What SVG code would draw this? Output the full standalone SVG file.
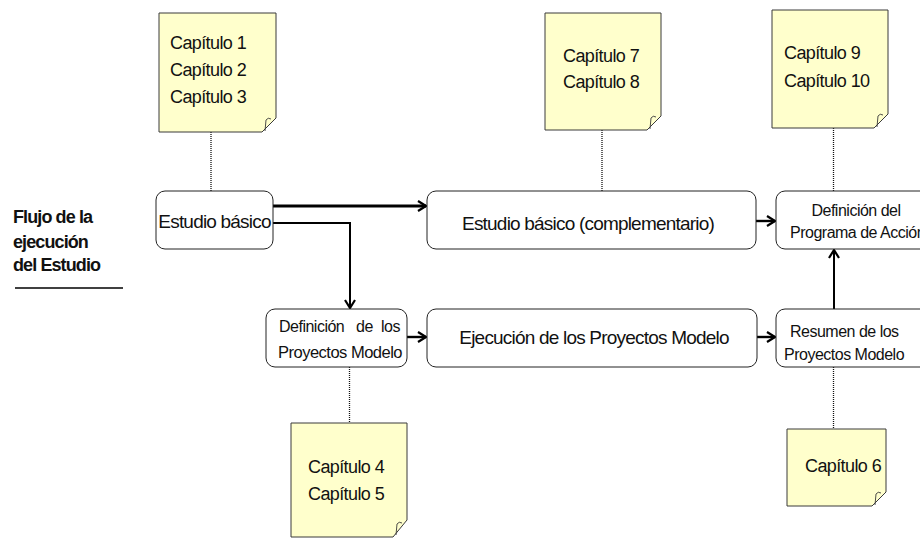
<svg xmlns="http://www.w3.org/2000/svg" width="920" height="538" viewBox="0 0 920 538">
  <style>
    .note { fill: #FFFFCC; stroke: #3a3a3a; stroke-width: 1; }
    .curl { fill: none; stroke: #3a3a3a; stroke-width: 0.9; }
    .box { fill: #FFFFFF; stroke: #222; stroke-width: 1; }
    .t { font-family: "Liberation Sans", Arial, sans-serif; fill: #111; }
    .nt { font-size: 18px; letter-spacing: -0.6px; }
    .bt { font-size: 19px; letter-spacing: -0.8px; }
    .st { font-size: 16px; letter-spacing: -0.5px; }
    .lbl { font-size: 18px; font-weight: bold; letter-spacing: -0.9px; }
    .dot { stroke: #111; stroke-width: 1.3; stroke-dasharray: 1 1; fill: none; }
    .flow { stroke: #000; fill: none; }
  </style>
  <defs>
    <marker id="head" viewBox="0 0 10 12" refX="9" refY="6" markerWidth="10" markerHeight="12" markerUnits="userSpaceOnUse" orient="auto">
      <path d="M1,1 L9,6 L1,11" fill="none" stroke="#000" stroke-width="2.2"/>
    </marker>
  </defs>

  <!-- side label -->
  <g id="label">
    <text class="t lbl" x="13" y="223">Flujo de la</text>
    <text class="t lbl" x="13" y="248">ejecución</text>
    <text class="t lbl" x="13" y="271">del Estudio</text>
    <line x1="15" y1="288" x2="123" y2="288" stroke="#000" stroke-width="1.6"/>
  </g>

  <!-- connectors -->
  <g id="connectors">
    <line class="dot" x1="211" y1="132" x2="211" y2="191"/>
    <line class="dot" x1="602" y1="130" x2="602" y2="191"/>
    <line class="dot" x1="833.5" y1="128" x2="833.5" y2="191"/>
    <line class="dot" x1="349.5" y1="367" x2="349.5" y2="423"/>
    <line class="dot" x1="833.5" y1="367" x2="833.5" y2="429"/>

    <line class="flow" x1="273" y1="206" x2="426" y2="206" stroke-width="2.8" marker-end="url(#head)"/>
    <polyline class="flow" points="273,223 350,223 350,308" stroke-width="2" marker-end="url(#head)"/>
    <line class="flow" x1="756" y1="221" x2="775" y2="221" stroke-width="2.4" marker-end="url(#head)"/>
    <line class="flow" x1="407" y1="337" x2="426" y2="337" stroke-width="2.4" marker-end="url(#head)"/>
    <line class="flow" x1="757" y1="337" x2="775" y2="337" stroke-width="2.4" marker-end="url(#head)"/>
    <line class="flow" x1="834" y1="309" x2="834" y2="250" stroke-width="2" marker-end="url(#head)"/>
  </g>

  <!-- chapter notes -->
  <g id="note-1-3">
    <path class="note" d="M159,13 H276 V118 L262,132 H159 Z"/>
    <path class="curl" d="M265,131 L266,120 Q268,117 271,119"/>
    <text class="t nt" x="170" y="49">Capítulo 1</text>
    <text class="t nt" x="170" y="76">Capítulo 2</text>
    <text class="t nt" x="170" y="103">Capítulo 3</text>
  </g>
  <g id="note-7-8">
    <path class="note" d="M545,13 H661 V116 L647,130 H545 Z"/>
    <path class="curl" d="M650,129 L651,118 Q653,115 656,117"/>
    <text class="t nt" x="563" y="62">Capítulo 7</text>
    <text class="t nt" x="563" y="88">Capítulo 8</text>
  </g>
  <g id="note-9-10">
    <path class="note" d="M772,10 H888 V114 L874,128 H772 Z"/>
    <path class="curl" d="M877,127 L878,116 Q880,113 883,115"/>
    <text class="t nt" x="784" y="59">Capítulo 9</text>
    <text class="t nt" x="784" y="87">Capítulo 10</text>
  </g>
  <g id="note-4-5">
    <path class="note" d="M291,423 H407 V520 L393,537 H291 Z"/>
    <path class="curl" d="M396,535 L397,524 Q399,521 402,523"/>
    <text class="t nt" x="308" y="473">Capítulo 4</text>
    <text class="t nt" x="308" y="500">Capítulo 5</text>
  </g>
  <g id="note-6">
    <path class="note" d="M787,429 H886 V492 L872,506 H787 Z"/>
    <path class="curl" d="M875,505 L876,494 Q878,491 881,493"/>
    <text class="t nt" x="805" y="472">Capítulo 6</text>
  </g>

  <!-- process steps -->
  <g id="estudio-basico">
    <rect class="box" x="156" y="191" width="117" height="58" rx="9"/>
    <text class="t bt" x="214.5" y="228" text-anchor="middle">Estudio básico</text>
  </g>
  <g id="estudio-complementario">
    <rect class="box" x="427" y="191" width="329" height="58" rx="9"/>
    <text class="t bt" x="588" y="230" text-anchor="middle">Estudio básico (complementario)</text>
  </g>
  <g id="programa-accion">
    <rect class="box" x="776" y="191" width="164" height="58" rx="9"/>
    <text class="t st" x="856" y="216" text-anchor="middle">Definición del</text>
    <text class="t st" x="790" y="238">Programa de Acción</text>
  </g>
  <g id="definicion-proyectos">
    <rect class="box" x="266" y="309" width="141" height="58" rx="9"/>
    <text class="t st" x="279" y="332">Definición</text>
    <text class="t st" x="356" y="332">de</text>
    <text class="t st" x="381" y="332">los</text>
    <text class="t st" x="278" y="358" textLength="124" lengthAdjust="spacingAndGlyphs">Proyectos Modelo</text>
  </g>
  <g id="ejecucion-proyectos">
    <rect class="box" x="427" y="309" width="330" height="58" rx="9"/>
    <text class="t bt" x="594" y="344" text-anchor="middle">Ejecución de los Proyectos Modelo</text>
  </g>
  <g id="resumen-proyectos">
    <rect class="box" x="776" y="309" width="164" height="58" rx="9"/>
    <text class="t st" x="790" y="337">Resumen de los</text>
    <text class="t st" x="784" y="360">Proyectos Modelo</text>
  </g>
</svg>
